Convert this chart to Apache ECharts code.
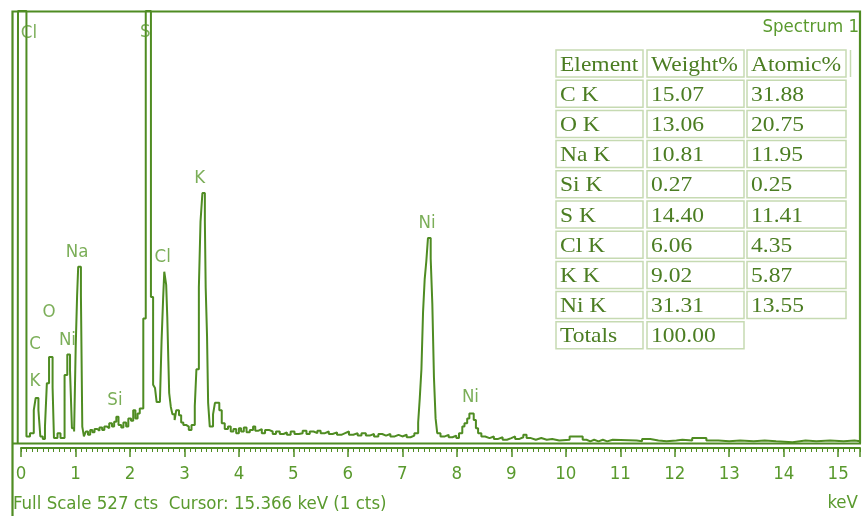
<!DOCTYPE html>
<html><head><meta charset="utf-8">
<script src="https://cdn.jsdelivr.net/npm/echarts@6/dist/echarts.min.js"></script>
<style>html,body{margin:0;padding:0;background:#fff}#c{width:863px;height:516px}</style>
</head><body><div id="c"></div>
<script>
// Spectrum: left edge of each step (keV) and counts in that step
const energyKeV = [
  -0.06, -0.055, 0.10, 0.165, 0.235, 0.27, 0.32, 0.355, 0.40, 0.44,
  0.475, 0.515, 0.58, 0.605, 0.67, 0.725, 0.80, 0.85, 0.90, 0.935,
  0.975, 1.005, 1.03, 1.05, 1.10, 1.125, 1.155, 1.19, 1.23, 1.27,
  1.31, 1.35, 1.40, 1.44, 1.49, 1.53, 1.58, 1.62, 1.67, 1.71,
  1.75, 1.79, 1.84, 1.88, 1.93, 1.97, 2.02, 2.06, 2.10, 2.14,
  2.18, 2.245, 2.29, 2.385, 2.425, 2.46, 2.49, 2.55, 2.58, 2.61,
  2.63, 2.665, 2.685, 2.705, 2.72, 2.75, 2.78, 2.82, 2.85, 2.90,
  2.94, 2.98, 3.03, 3.08, 3.13, 3.19, 3.22, 3.265, 3.295, 3.33,
  3.375, 3.39, 3.415, 3.435, 3.465, 3.525, 3.56, 3.64, 3.685, 3.74,
  3.80, 3.85, 3.90, 3.95, 4.00, 4.04, 4.09, 4.14, 4.20, 4.26,
  4.30, 4.36, 4.42, 4.48, 4.55, 4.62, 4.68, 4.75, 4.82, 4.88,
  4.95, 5.02, 5.10, 5.17, 5.24, 5.30, 5.37, 5.44, 5.50, 5.58,
  5.65, 5.72, 5.80, 5.88, 5.95, 6.02, 6.10, 6.18, 6.25, 6.33,
  6.40, 6.48, 6.56, 6.63, 6.70, 6.78, 6.86, 6.93, 7.00, 7.08,
  7.15, 7.22, 7.29, 7.32, 7.35, 7.38, 7.41, 7.44, 7.47, 7.52,
  7.55, 7.58, 7.61, 7.64, 7.70, 7.78, 7.85, 7.92, 7.99, 8.04,
  8.10, 8.14, 8.19, 8.23, 8.31, 8.35, 8.39, 8.45, 8.52, 8.60,
  8.68, 8.76, 8.84, 8.92, 9.00, 9.07, 9.15, 9.22, 9.28, 9.36,
  9.45, 9.55, 9.65, 9.75, 9.88, 10.07, 10.31, 10.38, 10.45, 10.52,
  10.60, 10.68, 10.76, 10.86, 11.30, 11.40, 11.55, 11.70, 11.85, 12.03,
  12.14, 12.32, 12.58, 12.80, 13.00, 13.20, 13.45, 13.65, 13.86, 14.16,
  14.40, 14.60, 14.85, 15.10, 15.30, 15.40
];
const counts = [
  0, 527, 8, 12, 40, 55, 40, 8, 5, 20,
  73, 105, 68, 6, 12, 6, 83, 108, 88, 18,
  14, 120, 180, 215, 180, 20, 8, 14, 10, 16,
  13, 17, 15, 19, 16, 20, 18, 24, 20, 26,
  32, 22, 19, 25, 20, 30, 27, 40, 30, 36,
  42, 152, 527, 178, 71, 67, 50, 48, 124, 178,
  209, 193, 154, 100, 61, 44, 35, 28, 40, 34,
  25, 22, 20, 16, 22, 45, 90, 190, 270, 305,
  270, 190, 130, 49, 20, 35, 49, 40, 24, 17,
  20, 14, 17, 12, 18, 14, 19, 13, 16, 20,
  15, 17, 12, 16, 14, 11, 14, 11, 13, 10,
  14, 11, 12, 15, 11, 14, 12, 15, 12, 14,
  11, 13, 10, 12, 14, 10, 12, 9, 12, 9,
  11, 8, 11, 9, 11, 8, 10, 8, 10, 7,
  9, 12, 25, 55, 90, 160, 200, 222, 250, 225,
  170, 80, 30, 12, 8, 10, 7, 9, 6, 12,
  20, 24, 30, 36, 28, 18, 12, 8, 6, 8,
  5, 7, 4, 6, 8, 5, 7, 10, 6, 4,
  6, 4, 5, 3, 4, 8, 4, 2, 4, 2,
  4, 2, 4, 3, 2, 5, 3, 2, 3, 4,
  3, 6, 3, 2, 3, 2, 3, 2, 1, 3,
  2, 3, 2, 3, 2, 2
];
const fullScaleCts = 527;
const axisMaxKeV = 15.4;
const plotMinKeV = -0.165;   // left edge of the plotting frame

// Peak labels (text centre in keV / counts)
const peakLabelNames = ['Cl', 'S', 'K', 'Na', 'Cl', 'O', 'C', 'Ni', 'K', 'Si', 'Ni', 'Ni'];
const peakLabelKeV   = [0.147, 2.283, 3.28, 1.03, 2.60, 0.513, 0.257, 0.853, 0.257, 1.724, 7.455, 8.25];
const peakLabelCts   = [500, 501, 323, 233, 227, 159, 120, 126, 76, 52, 268, 56];

// Quantification table
const tableHeader   = ['Element', 'Weight%', 'Atomic%'];
const tableElements = ['C K', 'O K', 'Na K', 'Si K', 'S K', 'Cl K', 'K K', 'Ni K', 'Totals'];
const tableWeight   = ['15.07', '13.06', '10.81', '0.27', '14.40', '6.06', '9.02', '31.31', '100.00'];
const tableAtomic   = ['31.88', '20.75', '11.95', '0.25', '11.41', '4.35', '5.87', '13.55', ''];

const titleText = 'Spectrum 1';
const footerText = 'Full Scale 527 cts  Cursor: 15.366 keV (1 cts)';
const unitText = 'keV';

const GREEN = '#4f8c22';
const TXT = '#5a9a2e';
const TABLE_TXT = '#4b7d22';
const CELL = '#c6dab2';
const NARROW = "'Liberation Sans Narrow','Arial Narrow','DejaVu Sans Condensed',sans-serif";
const FS = 18.5;

const graphic = [];
// frame
graphic.push({type:'polyline', z:10, shape:{points:[[12.5,516],[12.5,11.5],[860,11.5],[860,443.5]]},
  style:{stroke:GREEN, lineWidth:2.2, fill:null}});
graphic.push({type:'line', z:10, shape:{x1:12, y1:443.5, x2:861, y2:443.5}, style:{stroke:GREEN, lineWidth:2.2}});

// table
const colX = [556, 647, 747], colW = [87, 97, 99];
const rowTop0 = 50, rowPitch = 30.2, rowH = 27;
const rows = [tableHeader].concat(tableElements.map((e, i) => [e, tableWeight[i], tableAtomic[i]]));
rows.forEach((r, ri) => {
  const top = rowTop0 + ri * rowPitch;
  r.forEach((txt, ci) => {
    if (ri === rows.length - 1 && ci === 2) return;
    graphic.push({type:'rect', z:5, shape:{x:colX[ci], y:top, width:colW[ci], height:rowH},
      style:{fill:'#fff', stroke:CELL, lineWidth:1.5}});
    graphic.push({type:'text', z:6, x:colX[ci] + 4, y:top + rowH / 2 + 1.5, scaleX:1.12,
      style:{text:txt, font:"21px 'Liberation Serif','Times New Roman',serif", fill:TABLE_TXT, verticalAlign:'middle', align:'left'}});
  });
});
graphic.push({type:'line', z:5, shape:{x1:850.5, y1:rowTop0, x2:850.5, y2:rowTop0 + rowH}, style:{stroke:CELL, lineWidth:1.5}});

// footer texts
graphic.push({type:'text', z:6, x:13, y:504, style:{text:footerText, font:FS + "px " + NARROW, fill:TXT, verticalAlign:'middle', align:'left'}});
graphic.push({type:'text', z:6, x:858, y:503, style:{text:unitText, font:FS + "px " + NARROW, fill:TXT, verticalAlign:'middle', align:'right'}});

const option = {
  animation: false,
  backgroundColor: '#fff',
  title: {text:titleText, right:4, top:18, padding:0,
    textStyle:{fontSize:FS, fontWeight:'normal', color:TXT, fontFamily:NARROW}},
  grid: [
    {left:21, right:3, top:11, bottom:73, containLabel:false, outerBoundsMode:'none'},
    {left:12, right:3, top:11, bottom:73, containLabel:false, outerBoundsMode:'none'}
  ],
  xAxis: [
    {type:'value', gridIndex:0, min:0, max:axisMaxKeV, interval:1, position:'bottom', offset:5,
      axisLine:{show:true, onZero:false, lineStyle:{color:GREEN, width:2}},
      axisTick:{show:true, length:9, lineStyle:{color:GREEN, width:1.5}},
      axisLabel:{show:true, margin:17, color:TXT, fontSize:FS, fontFamily:NARROW,
        formatter: v => (Math.abs(v - Math.round(v)) < 1e-6 ? String(Math.round(v)) : '')},
      splitLine:{show:false}},
    {type:'value', gridIndex:0, min:0, max:axisMaxKeV, interval:0.1, position:'bottom', offset:5,
      axisLine:{show:false, onZero:false},
      axisTick:{show:true, length:4, lineStyle:{color:GREEN, width:1}},
      axisLabel:{show:false}, splitLine:{show:false}},
    {type:'value', gridIndex:1, min:plotMinKeV, max:axisMaxKeV, show:false}
  ],
  yAxis: [
    {type:'value', gridIndex:0, min:0, max:fullScaleCts, show:false},
    {type:'value', gridIndex:1, min:0, max:fullScaleCts, show:false}
  ],
  series: [
    {type:'line', xAxisIndex:2, yAxisIndex:1, step:'end', symbol:'none', clip:false,
      data: energyKeV.map((e, i) => [e, counts[i]]),
      lineStyle:{color:GREEN, width:2}, z:3},
    {type:'scatter', xAxisIndex:2, yAxisIndex:1, symbolSize:1, silent:true, clip:false,
      itemStyle:{color:'rgba(0,0,0,0)'},
      data: peakLabelNames.map((n, i) => ({name:n, value:[peakLabelKeV[i], peakLabelCts[i]]})),
      label:{show:true, position:'inside', formatter:'{b}', color:TXT, fontSize:FS, fontFamily:NARROW}, z:4}
  ],
  graphic: graphic
};
const chart = echarts.init(document.getElementById('c'));
chart.setOption(option);
</script>
</body></html>
